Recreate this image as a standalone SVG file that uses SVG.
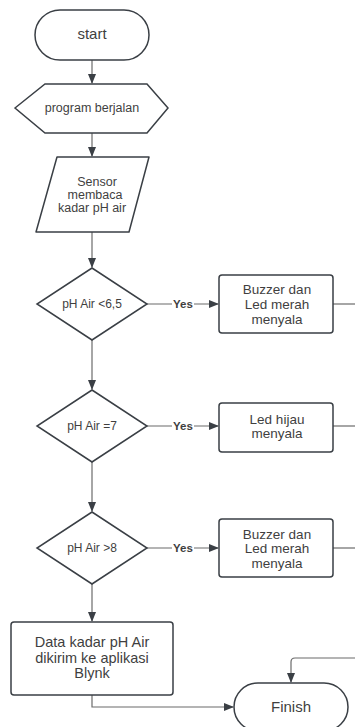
<svg xmlns="http://www.w3.org/2000/svg" width="355" height="727" viewBox="0 0 355 727">
<defs>
<marker id="ah" markerWidth="10" markerHeight="8" refX="9" refY="4" orient="auto" markerUnits="userSpaceOnUse">
<path d="M0,0 L10,4 L0,8 Z" fill="#3a3f45"/>
</marker>
<style>
.s{fill:#fff;stroke:#3a3f45;stroke-width:1.5;}
.c{fill:none;stroke:#6b6b6b;stroke-width:1.2;}
.t{font-family:"Liberation Sans",Arial,sans-serif;font-size:13.5px;fill:#3f3f3f;text-anchor:middle;}
.m{font-size:12.5px;}
.d{font-size:12px;}
.b{font-size:15px;}
.y{font-family:"Liberation Sans",Arial,sans-serif;font-size:11.5px;font-weight:bold;fill:#3f3f3f;text-anchor:middle;}
</style>
</defs>
<rect width="355" height="727" fill="#fff"/>
<g id="connectors">
<path class="c" d="M92,60 V83" marker-end="url(#ah)"/>
<path class="c" d="M92,133 V156" marker-end="url(#ah)"/>
<path class="c" d="M92,232 V267" marker-end="url(#ah)"/>
<path class="c" d="M92,340 V389" marker-end="url(#ah)"/>
<path class="c" d="M92,462 V511" marker-end="url(#ah)"/>
<path class="c" d="M92,584 V621" marker-end="url(#ah)"/>
<path class="c" d="M147,304 H172 M194,304 H218" marker-end="url(#ah)"/>
<path class="c" d="M147,426 H172 M194,426 H218" marker-end="url(#ah)"/>
<path class="c" d="M147,548 H172 M194,548 H218" marker-end="url(#ah)"/>
<path class="c" d="M333,304 H355"/>
<path class="c" d="M333,426 H355"/>
<path class="c" d="M333,548 H355"/>
<path class="c" d="M92,695 V707 H233" marker-end="url(#ah)"/>
<path class="c" d="M355,658 H295 Q291,658 291,662 V682" marker-end="url(#ah)"/>
<text class="y" x="183" y="308">Yes</text>
<text class="y" x="183" y="430">Yes</text>
<text class="y" x="183" y="552">Yes</text>
</g>
<g id="start">
<rect class="s" x="35" y="10" width="114" height="50" rx="25"/>
<text class="t b" x="92" y="39">start</text>
</g>
<g id="program">
<path class="s" d="M15,108 L45,84 H147 L168,108 L147,133 H45 Z"/>
<text class="t m" x="92" y="112">program berjalan</text>
</g>
<g id="sensor">
<path class="s" d="M57,157 H149 L129,232 H36 Z" stroke-linejoin="round"/>
<text class="t m" x="97" y="186">Sensor</text>
<text class="t m" x="95" y="199">membaca</text>
<text class="t m" x="92" y="212">kadar pH air</text>
</g>
<g id="cek1">
<path class="s" d="M92,268 L147,304 L92,340 L37,304 Z"/>
<text class="t d" x="92" y="308">pH Air &lt;6,5</text>
</g>
<g id="out1">
<rect class="s" x="219" y="275" width="114" height="58" rx="3"/>
<text class="t" x="277" y="294">Buzzer dan</text>
<text class="t" x="277" y="309">Led merah</text>
<text class="t" x="277" y="324">menyala</text>
</g>
<g id="cek2">
<path class="s" d="M92,390 L147,426 L92,462 L37,426 Z"/>
<text class="t d" x="92" y="430">pH Air =7</text>
</g>
<g id="out2">
<rect class="s" x="219" y="403" width="114" height="49" rx="3"/>
<text class="t" x="277" y="424">Led hijau</text>
<text class="t" x="277" y="438">menyala</text>
</g>
<g id="cek3">
<path class="s" d="M92,512 L147,548 L92,584 L37,548 Z"/>
<text class="t d" x="92" y="552">pH Air &gt;8</text>
</g>
<g id="out3">
<rect class="s" x="219" y="519" width="114" height="58" rx="3"/>
<text class="t" x="277" y="539">Buzzer dan</text>
<text class="t" x="277" y="553">Led merah</text>
<text class="t" x="277" y="568">menyala</text>
</g>
<g id="data">
<rect class="s" x="11" y="622" width="162" height="73" rx="3"/>
<text class="t" x="92" y="647" style="font-size:14.5px">Data kadar pH Air</text>
<text class="t" x="92" y="663" style="font-size:14.5px">dikirim ke aplikasi</text>
<text class="t" x="92" y="678" style="font-size:14.5px">Blynk</text>
</g>
<g id="finish">
<rect class="s" x="234" y="683" width="114" height="48" rx="24"/>
<text class="t b" x="291" y="712">Finish</text>
</g>
</svg>
